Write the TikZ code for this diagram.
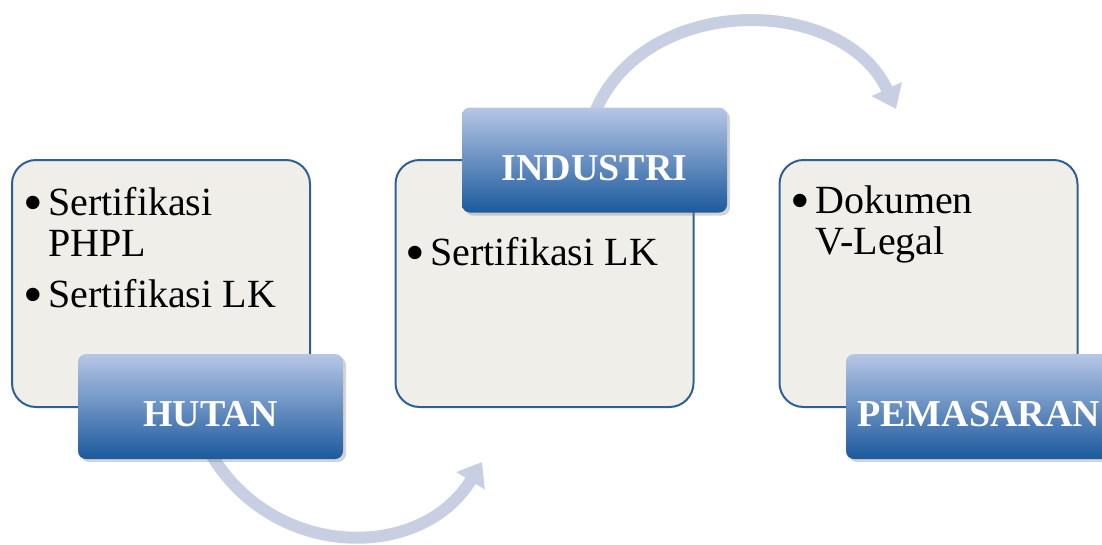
\documentclass[tikz,border=0pt]{standalone}
\usepackage{fontspec}
\setmainfont{Liberation Serif}
\usetikzlibrary{arrows.meta,shadows,backgrounds}

\definecolor{kotakisi}{HTML}{EFEEE8}
\definecolor{garistepi}{HTML}{2E6096}
\definecolor{birumuda}{HTML}{B6C6E6}
\definecolor{birutua}{HTML}{1C5A9D}
\definecolor{panah}{HTML}{C8CFE2}

\newcommand{\bul}{\makebox[21pt][l]{\hspace{-4pt}\raisebox{-6pt}{\scalebox{1.4}{\textbullet}}}}

\tikzset{
  isibox/.style={draw=garistepi, line width=2pt, fill=kotakisi, rounded corners=24pt,
    minimum width=298pt, minimum height=247pt, inner sep=0pt},
  judul/.style={top color=birumuda, bottom color=birutua, rounded corners=8pt,
    minimum width=265pt, minimum height=105pt, text=white, text height=40pt, text depth=0pt,
    font=\fontsize{38}{40}\selectfont\bfseries,
    drop shadow={shadow xshift=3pt, shadow yshift=-3pt, opacity=0.35}},
  butir/.style={anchor=base west, inner sep=0pt, font=\fontsize{40}{41}\selectfont},
  alir/.style={draw=panah, line width=12pt, -{Triangle[length=22pt,width=32pt]}},
}

\begin{document}
\begin{tikzpicture}[x=1pt, y=-1pt]
  \useasboundingbox (0,0) rectangle (1102,544);

  % kotak isi
  \node[isibox] (hutanbox) at (161,283.5) {};
  \node[isibox] (industribox) at (544.5,283.5) {};
  \node[isibox] (pemasaranbox) at (928.5,283.5) {};

  \node[butir] (isi1) at (27,215) {\begin{tabular}[t]{@{}l@{}l@{}}
    \bul & Sertifikasi\\
         & PHPL\\[10pt]
    \bul & Sertifikasi LK
  \end{tabular}};
  \node[butir] (isi2) at (409,265) {\begin{tabular}[t]{@{}l@{}l@{}}
    \bul & Sertifikasi LK
  \end{tabular}};
  \node[butir] (isi3) at (794,213) {\begin{tabular}[t]{@{}l@{}l@{}}
    \bul & Dokumen\\
         & V-Legal
  \end{tabular}};

  % judul
  \node[judul] (hutan) at (210.5,406.5) {HUTAN};
  \node[judul] (industri) at (594.5,160) {INDUSTRI};
  \node[judul] (pemasaran) at (978.5,406.5) {PEMASARAN};

  % panah
  \coordinate (ujung1) at (482,462);
  \coordinate (ujung2) at (896,109);
  \begin{pgfonlayer}{background}
    \draw[alir] ([yshift=6pt]hutan.south) .. controls (273,560) and (421,562) .. (ujung1);
    \draw[alir] ([yshift=-6pt]industri.north) .. controls (644,-8) and (843,-6) .. (ujung2);
  \end{pgfonlayer}
\end{tikzpicture}
\end{document}
